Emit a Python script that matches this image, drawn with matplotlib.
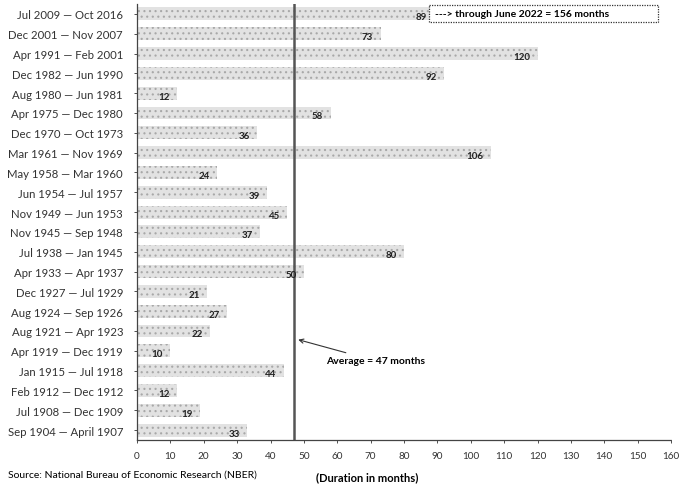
import matplotlib
matplotlib.use("Agg")
import matplotlib.pyplot as plt
from matplotlib.patches import Rectangle

periods = ["Jul 2009 — Oct 2016", "Dec 2001 — Nov 2007", "Apr 1991 — Feb 2001",
           "Dec 1982 — Jun 1990", "Aug 1980 — Jun 1981", "Apr 1975 — Dec 1980",
           "Dec 1970 — Oct 1973", "Mar 1961 — Nov 1969", "May 1958 — Mar 1960",
           "Jun 1954 — Jul 1957", "Nov 1949 — Jun 1953", "Nov 1945 — Sep 1948",
           "Jul 1938 — Jan 1945", "Apr 1933 — Apr 1937", "Dec 1927 — Jul 1929",
           "Aug 1924 — Sep 1926", "Aug 1921 — Apr 1923", "Apr 1919 — Dec 1919",
           "Jan 1915 — Jul 1918", "Feb 1912 — Dec 1912", "Jul 1908 — Dec 1909",
           "Sep 1904 — April 1907"]
durations = [89, 73, 120, 92, 12, 58, 36, 106, 24, 39, 45, 37, 80, 50, 21, 27, 22, 10, 44, 12, 19, 33]
average = 47
xticks = list(range(0, 161, 10))

plt.rcParams['font.family'] = ['Lato', 'DejaVu Sans']
plt.rcParams['hatch.linewidth'] = 0.8

fig = plt.figure(figsize=(6.79, 4.85), dpi=100)
ax = fig.add_axes([137/679, 44/485, 534/679, 436/485])

y = list(range(len(periods)))
ax.barh(y, durations, height=0.65, color='#e2e2e2', edgecolor='#a8a8a8', linewidth=0,
        hatch='...')
for yi, v in zip(y, durations):
    ax.text(v - 2.2, yi + 0.15, str(v), ha='right', va='center', fontsize=7, fontweight='bold',
            color='#222222', zorder=5)

ax.set_ylim(len(periods) - 0.5, -0.5)
ax.set_xlim(0, 160)
ax.set_yticks(y)
ax.set_yticklabels(periods, fontsize=8.2)
ax.set_xticks(xticks)
ax.set_xticklabels([str(t) for t in xticks], fontsize=7.2)
ax.tick_params(axis='both', length=2, width=0.6, colors='#333333', pad=6)
ax.tick_params(axis='y', pad=8)

for s in ['top', 'right']:
    ax.spines[s].set_visible(False)
for s in ['left', 'bottom']:
    ax.spines[s].set_linestyle((0, (1, 1)))
    ax.spines[s].set_linewidth(0.9)
    ax.spines[s].set_color('#444444')

ax.axvline(average, color='#555555', linewidth=1.8)

ax.annotate("Average = 47 months", xy=(average + 0.5, 16.4), xytext=(56.5, 17.5),
            fontsize=7.5, fontweight='bold', va='center', ha='left',
            arrowprops=dict(arrowstyle='->', color='#333333', lw=0.8))

ax.add_patch(Rectangle((87.6, -0.45), 68.4, 0.85, facecolor='white', edgecolor='#333333',
                       linestyle=(0, (1, 1)), linewidth=0.9, zorder=4))
ax.text(89.3, 0.0, "---> through June 2022 = 156 months", fontsize=7.5, fontweight='bold',
        va='center', ha='left', zorder=6)

fig.text(8/679, 1 - 475/485, "Source: National Bureau of Economic Research (NBER)", fontsize=7.5,
         va='center', ha='left')
fig.text(367/679, 1 - 478/485, "(Duration in months)", fontsize=8, fontweight='bold',
         va='center', ha='center')

fig.savefig("out.png", dpi=100)
